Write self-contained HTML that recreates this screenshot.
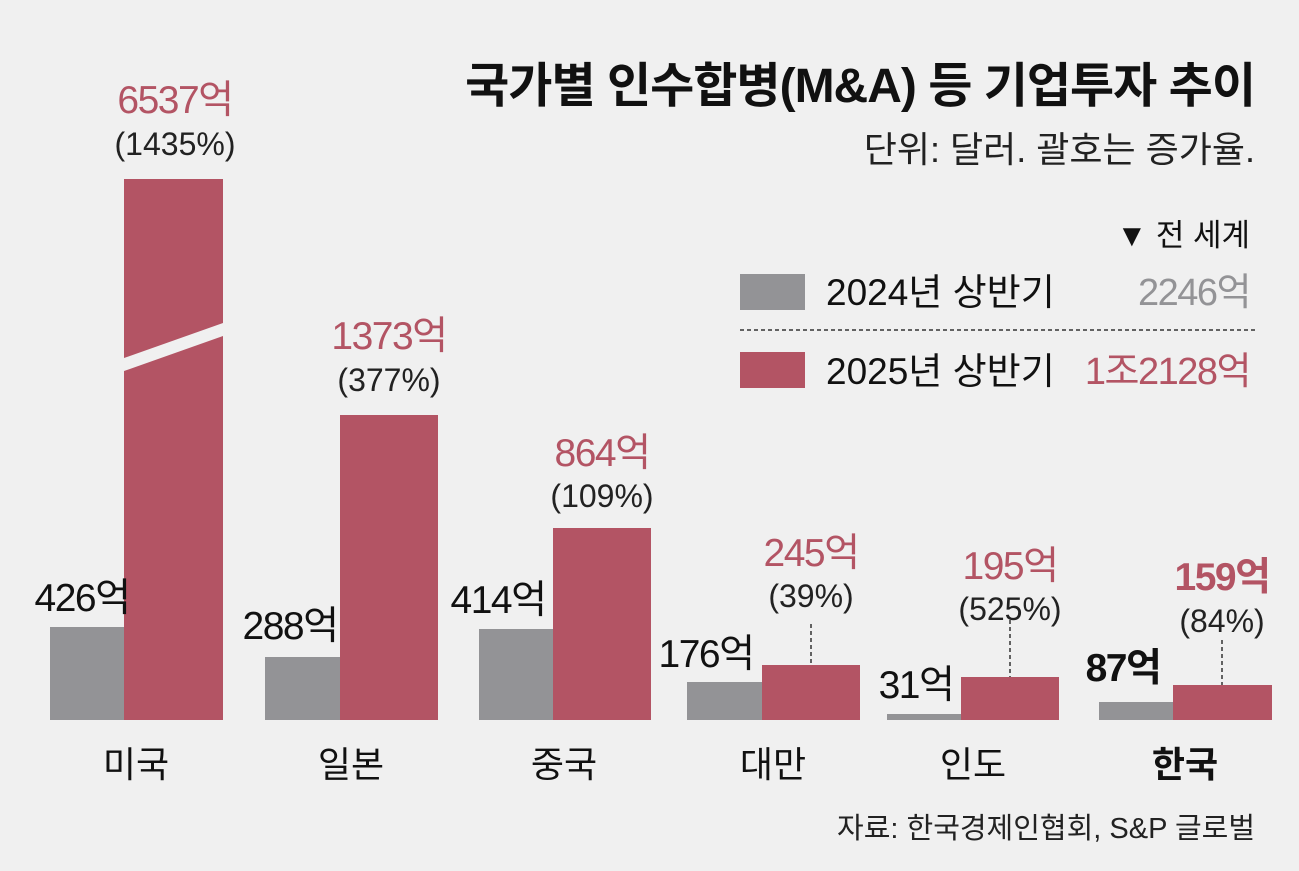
<!DOCTYPE html>
<html><head><meta charset="utf-8"><style>
html,body{margin:0;padding:0;background:#f0f0f0;}
svg{display:block;}
text{font-family:"Liberation Sans","Noto Sans CJK KR",sans-serif;}
.v{font-size:39px;letter-spacing:-1.5px;text-anchor:middle;}
.r{fill:#b35464;}
.p{font-size:32px;text-anchor:middle;fill:#222;}
.c{font-size:36px;text-anchor:middle;fill:#111;}
</style></head><body>
<svg width="1299" height="871" viewBox="0 0 1299 871">
<rect width="1299" height="871" fill="#f0f0f0"/>
<text x="1255" y="102" text-anchor="end" font-size="48" font-weight="bold" fill="#111" letter-spacing="-1">국가별 인수합병(M&amp;A) 등 기업투자 추이</text>
<text x="1255" y="162" text-anchor="end" font-size="36" fill="#222">단위: 달러. 괄호는 증가율.</text>
<text x="1250" y="246" text-anchor="end" font-size="31" fill="#111">▼ 전 세계</text>
<rect x="740" y="274" width="65" height="36" fill="#939396"/>
<text x="826" y="305" font-size="37" fill="#111">2024년 상반기</text>
<text x="1250" y="305" text-anchor="end" font-size="38" fill="#939396" letter-spacing="-1.5">2246억</text>
<line x1="740" y1="330" x2="1255" y2="330" stroke="#333" stroke-width="1.5" stroke-dasharray="4,3"/>
<rect x="740" y="352" width="65" height="36" fill="#b35464"/>
<text x="826" y="384" font-size="37" fill="#111">2025년 상반기</text>
<text x="1250" y="384" text-anchor="end" font-size="38" class="r" letter-spacing="-1.5">1조2128억</text>

<rect x="50" y="627" width="99" height="93" fill="#939396"/>
<polygon points="124,179 223,179 223,323 124,358" fill="#b35464"/>
<polygon points="124,371 223,336 223,720 124,720" fill="#b35464"/>
<rect x="265" y="657" width="99" height="63" fill="#939396"/>
<rect x="340" y="415" width="98" height="305" fill="#b35464"/>
<rect x="479" y="629" width="99" height="91" fill="#939396"/>
<rect x="553" y="528" width="98" height="192" fill="#b35464"/>
<rect x="687" y="682" width="99" height="38" fill="#939396"/>
<rect x="762" y="665" width="98" height="55" fill="#b35464"/>
<rect x="887" y="714" width="99" height="6" fill="#939396"/>
<rect x="961" y="677" width="98" height="43" fill="#b35464"/>
<rect x="1099" y="702" width="99" height="18" fill="#939396"/>
<rect x="1173" y="685" width="99" height="35" fill="#b35464"/>

<g stroke="#333" stroke-width="1.5" stroke-dasharray="4,3">
<line x1="811" y1="624" x2="811" y2="665"/>
<line x1="1010" y1="620" x2="1010" y2="677"/>
<line x1="1222" y1="640" x2="1222" y2="685"/>
</g>

<text class="v r" x="175" y="113">6537억</text><text class="p" x="175" y="155">(1435%)</text>
<text class="v r" x="389" y="349">1373억</text><text class="p" x="389" y="391">(377%)</text>
<text class="v r" x="602" y="466">864억</text><text class="p" x="602" y="507">(109%)</text>
<text class="v r" x="811" y="566">245억</text><text class="p" x="811" y="607">(39%)</text>
<text class="v r" x="1010" y="579">195억</text><text class="p" x="1010" y="620">(525%)</text>
<text class="v r" x="1222" y="590" font-weight="bold" font-size="42">159억</text><text class="p" x="1222" y="632">(84%)</text>

<text class="v" x="82" y="611" fill="#111">426억</text>
<text class="v" x="290" y="639" fill="#111">288억</text>
<text class="v" x="498" y="613" fill="#111">414억</text>
<text class="v" x="706" y="667" fill="#111">176억</text>
<text class="v" x="916" y="698" fill="#111">31억</text>
<text class="v" x="1123" y="681" fill="#111" font-weight="bold" font-size="42">87억</text>

<text class="c" x="136" y="777">미국</text>
<text class="c" x="351" y="777">일본</text>
<text class="c" x="564" y="777">중국</text>
<text class="c" x="773" y="777">대만</text>
<text class="c" x="973" y="777">인도</text>
<text class="c" x="1185" y="777" font-weight="bold">한국</text>

<text x="1255" y="838" text-anchor="end" font-size="29" fill="#222">자료: 한국경제인협회, S&amp;P 글로벌</text>
</svg>
</body></html>
